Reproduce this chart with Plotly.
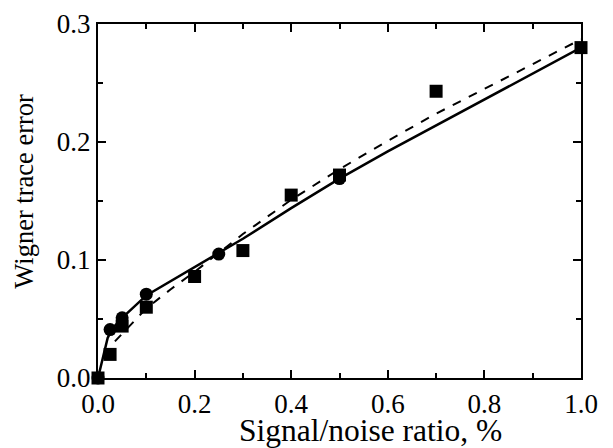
import plotly.graph_objects as go

# Measured data (squares)
sq_x = [0.0, 0.025, 0.05, 0.1, 0.2, 0.3, 0.4, 0.5, 0.7, 1.0]
sq_y = [0.0, 0.020, 0.044, 0.060, 0.086, 0.108, 0.155, 0.172, 0.243, 0.280]

# Measured data (circles)
ci_x = [0.0, 0.025, 0.05, 0.1, 0.25, 0.5]
ci_y = [0.0, 0.041, 0.051, 0.071, 0.105, 0.169]

# Solid fit curve
solid_x = [0.0, 0.01, 0.02, 0.03, 0.05, 0.1, 0.2, 0.25, 0.3, 0.4, 0.5, 0.6, 0.7, 0.8, 0.9, 1.0]
solid_y = [0.0, 0.018, 0.034, 0.042, 0.051, 0.070, 0.094, 0.106, 0.118, 0.144, 0.169, 0.192, 0.214, 0.236, 0.258, 0.280]

# Dashed fit curve
dash_x = [0.035, 0.066, 0.1, 0.15, 0.2, 0.3, 0.4, 0.5, 0.6, 0.7, 0.8, 0.9, 1.0]
dash_y = [0.031, 0.044, 0.059, 0.075, 0.090, 0.122, 0.151, 0.177, 0.201, 0.224, 0.245, 0.266, 0.287]

x_ticks = [0.0, 0.2, 0.4, 0.6, 0.8, 1.0]
y_ticks = [0.0, 0.1, 0.2, 0.3]

font = "Liberation Serif, Times New Roman, serif"

fig = go.Figure()
fig.add_trace(go.Scatter(x=solid_x, y=solid_y, mode="lines",
                         line=dict(color="black", width=2.5), cliponaxis=False))
fig.add_trace(go.Scatter(x=dash_x, y=dash_y, mode="lines",
                         line=dict(color="black", width=2, dash="dash"), cliponaxis=False))
fig.add_trace(go.Scatter(x=ci_x, y=ci_y, mode="markers",
                         marker=dict(symbol="circle", size=13, color="black"), cliponaxis=False))
fig.add_trace(go.Scatter(x=sq_x, y=sq_y, mode="markers",
                         marker=dict(symbol="square", size=13, color="black"), cliponaxis=False))

axis_common = dict(
    showline=True, linecolor="black", linewidth=2, mirror="allticks",
    ticks="inside", ticklen=8, tickwidth=2, tickcolor="black",
    showgrid=False, zeroline=False, automargin=False,
    tickfont=dict(family=font, size=27, color="black"),
)

fig.update_xaxes(range=[0, 1.0], tickvals=x_ticks,
                 ticktext=[f"{v:.1f}" for v in x_ticks],
                 ticklabelstandoff=1,
                 minor=dict(ticks="inside", ticklen=5, tickwidth=1.5, tickcolor="black", dtick=0.1, tick0=0),
                 **axis_common)
fig.update_yaxes(range=[0, 0.3], tickvals=y_ticks,
                 ticktext=[f"{v:.1f}" for v in y_ticks],
                 ticklabelstandoff=0,
                 minor=dict(ticks="inside", ticklen=5, tickwidth=1.5, tickcolor="black", dtick=0.05, tick0=0),
                 **axis_common)

fig.add_annotation(text="Signal/noise ratio, %", xref="paper", yref="paper",
                   x=0.565, y=-0.148, xanchor="center", yanchor="middle", showarrow=False,
                   font=dict(family=font, size=31.5, color="black"))
fig.add_annotation(text="Wigner trace error", xref="paper", yref="paper",
                   x=-0.152, y=0.528, xanchor="center", yanchor="middle", showarrow=False,
                   textangle=-90,
                   font=dict(family=font, size=26.5, color="black"))

fig.update_layout(
    width=613, height=448,
    margin=dict(l=90, r=40, t=16, b=78),
    paper_bgcolor="white", plot_bgcolor="white",
    showlegend=False,
)

fig.write_html("out.html")
